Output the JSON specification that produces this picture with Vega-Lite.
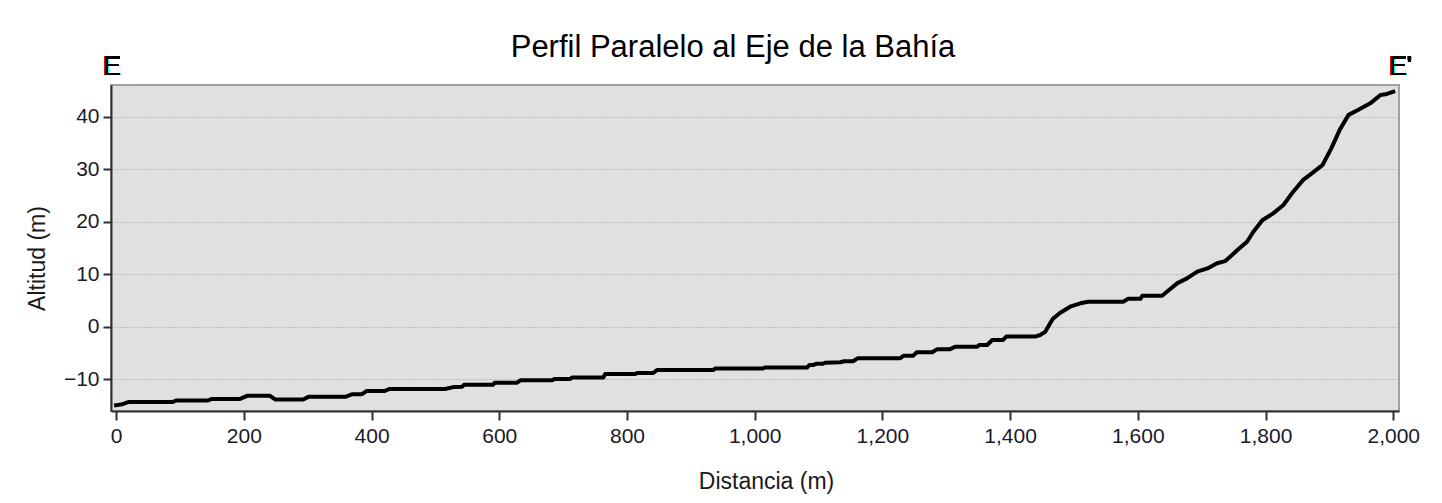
{
  "$schema": "https://vega.github.io/schema/vega-lite/v6.json",
  "autosize": "none",
  "width": 1288,
  "height": 326,
  "padding": {"left": 111, "top": 85, "right": 43, "bottom": 92},
  "background": "white",
  "title": {
    "text": "Perfil Paralelo al Eje de la Bahía",
    "font": "Liberation Sans",
    "fontSize": 31,
    "fontWeight": "normal",
    "color": "#000000",
    "anchor": "middle",
    "dx": -22,
    "offset": -11
  },
  "config": {
    "font": "Liberation Sans",
    "view": {"fill": "#e0e0e0", "stroke": "#a0a0a0", "strokeWidth": 2}
  },
  "data": {
    "values": [
      {"distancia": 0, "altitud": -15.0},
      {"distancia": 10, "altitud": -14.8},
      {"distancia": 19, "altitud": -14.4},
      {"distancia": 88, "altitud": -14.4},
      {"distancia": 94, "altitud": -14.1},
      {"distancia": 144, "altitud": -14.1},
      {"distancia": 150, "altitud": -13.8},
      {"distancia": 194, "altitud": -13.8},
      {"distancia": 205, "altitud": -13.2},
      {"distancia": 241, "altitud": -13.2},
      {"distancia": 249, "altitud": -13.9},
      {"distancia": 293, "altitud": -13.9},
      {"distancia": 301, "altitud": -13.4},
      {"distancia": 359, "altitud": -13.4},
      {"distancia": 370, "altitud": -12.9},
      {"distancia": 385, "altitud": -12.9},
      {"distancia": 392, "altitud": -12.3},
      {"distancia": 420, "altitud": -12.3},
      {"distancia": 428, "altitud": -11.9},
      {"distancia": 515, "altitud": -11.9},
      {"distancia": 530, "altitud": -11.5},
      {"distancia": 542, "altitud": -11.45},
      {"distancia": 545, "altitud": -11.1},
      {"distancia": 590, "altitud": -11.1},
      {"distancia": 593, "altitud": -10.7},
      {"distancia": 628, "altitud": -10.7},
      {"distancia": 633, "altitud": -10.25},
      {"distancia": 683, "altitud": -10.25},
      {"distancia": 686, "altitud": -10.0},
      {"distancia": 711, "altitud": -10.0},
      {"distancia": 714, "altitud": -9.7},
      {"distancia": 763, "altitud": -9.7},
      {"distancia": 766, "altitud": -9.05},
      {"distancia": 813, "altitud": -9.05},
      {"distancia": 816, "altitud": -8.85},
      {"distancia": 841, "altitud": -8.85},
      {"distancia": 847, "altitud": -8.3},
      {"distancia": 935, "altitud": -8.3},
      {"distancia": 938, "altitud": -8.0},
      {"distancia": 1013, "altitud": -8.0},
      {"distancia": 1016, "altitud": -7.8},
      {"distancia": 1082, "altitud": -7.8},
      {"distancia": 1086, "altitud": -7.3},
      {"distancia": 1092, "altitud": -7.3},
      {"distancia": 1096, "altitud": -7.1},
      {"distancia": 1107, "altitud": -7.1},
      {"distancia": 1110, "altitud": -6.9},
      {"distancia": 1134, "altitud": -6.8},
      {"distancia": 1140, "altitud": -6.6},
      {"distancia": 1154, "altitud": -6.6},
      {"distancia": 1161, "altitud": -6.05},
      {"distancia": 1228, "altitud": -6.05},
      {"distancia": 1233, "altitud": -5.55},
      {"distancia": 1248, "altitud": -5.55},
      {"distancia": 1254, "altitud": -4.9},
      {"distancia": 1278, "altitud": -4.9},
      {"distancia": 1286, "altitud": -4.3},
      {"distancia": 1306, "altitud": -4.3},
      {"distancia": 1314, "altitud": -3.85},
      {"distancia": 1348, "altitud": -3.85},
      {"distancia": 1352, "altitud": -3.5},
      {"distancia": 1364, "altitud": -3.5},
      {"distancia": 1372, "altitud": -2.55},
      {"distancia": 1389, "altitud": -2.55},
      {"distancia": 1394, "altitud": -1.9},
      {"distancia": 1439, "altitud": -1.9},
      {"distancia": 1447, "altitud": -1.6},
      {"distancia": 1455, "altitud": -1.0},
      {"distancia": 1462, "altitud": 0.5},
      {"distancia": 1467, "altitud": 1.5},
      {"distancia": 1478, "altitud": 2.6},
      {"distancia": 1494, "altitud": 3.8},
      {"distancia": 1510, "altitud": 4.45},
      {"distancia": 1522, "altitud": 4.75},
      {"distancia": 1577, "altitud": 4.75},
      {"distancia": 1585, "altitud": 5.3},
      {"distancia": 1604, "altitud": 5.3},
      {"distancia": 1607, "altitud": 5.9},
      {"distancia": 1638, "altitud": 5.9},
      {"distancia": 1646, "altitud": 6.7},
      {"distancia": 1662, "altitud": 8.3},
      {"distancia": 1677, "altitud": 9.2},
      {"distancia": 1693, "altitud": 10.5},
      {"distancia": 1709, "altitud": 11.1},
      {"distancia": 1724, "altitud": 12.1},
      {"distancia": 1737, "altitud": 12.5},
      {"distancia": 1756, "altitud": 14.6},
      {"distancia": 1771, "altitud": 16.2},
      {"distancia": 1781, "altitud": 18.1},
      {"distancia": 1795, "altitud": 20.3},
      {"distancia": 1812, "altitud": 21.6},
      {"distancia": 1828, "altitud": 23.2},
      {"distancia": 1843, "altitud": 25.7},
      {"distancia": 1859, "altitud": 28.0},
      {"distancia": 1873, "altitud": 29.3},
      {"distancia": 1889, "altitud": 30.8},
      {"distancia": 1903, "altitud": 34.0},
      {"distancia": 1916, "altitud": 37.5},
      {"distancia": 1930, "altitud": 40.4},
      {"distancia": 1944, "altitud": 41.3},
      {"distancia": 1964, "altitud": 42.6},
      {"distancia": 1980, "altitud": 44.2},
      {"distancia": 1990, "altitud": 44.4},
      {"distancia": 2000, "altitud": 44.8}
    ]
  },
  "layer": [
    {
      "mark": {"type": "line", "color": "#000000", "strokeWidth": 4, "strokeJoin": "round", "strokeCap": "square"},
      "encoding": {
        "x": {
          "field": "distancia",
          "type": "quantitative",
          "scale": {"domain": [-8, 2009], "nice": false, "zero": false},
          "axis": {
            "title": "Distancia (m)",
            "values": [0, 200, 400, 600, 800, 1000, 1200, 1400, 1600, 1800, 2000],
            "format": ",.0f",
            "grid": false,
            "domainColor": "#303030",
            "domainWidth": 2,
            "tickColor": "#303030",
            "tickWidth": 2,
            "tickSize": 9,
            "labelFontSize": 21,
            "labelColor": "#1a1a2a",
            "labelPadding": 5,
            "titleFontSize": 23,
            "titleFontWeight": "normal",
            "titleColor": "#1a1a1a",
            "titlePadding": 24,
            "titleX": 655
          }
        },
        "y": {
          "field": "altitud",
          "type": "quantitative",
          "scale": {"domain": [-16.1, 46.1], "nice": false, "zero": false},
          "axis": {
            "title": "Altitud (m)",
            "values": [-10, 0, 10, 20, 30, 40],
            "grid": true,
            "gridColor": "#a0a0a0",
            "gridDash": [1, 2],
            "gridWidth": 1,
            "domainColor": "#303030",
            "domainWidth": 2,
            "tickColor": "#303030",
            "tickWidth": 2,
            "tickSize": 8,
            "labelFontSize": 21,
            "labelColor": "#1a1a2a",
            "labelPadding": 4,
            "titleFontSize": 23,
            "titleFontWeight": "normal",
            "titleColor": "#1a1a1a",
            "titlePadding": 14,
            "titleY": 173
          }
        }
      }
    },
    {
      "mark": {"type": "text", "fontSize": 27, "color": "#000000", "baseline": "alphabetic", "align": "center", "clip": false},
      "encoding": {
        "x": {"datum": -7, "type": "quantitative"},
        "y": {"datum": 48.1, "type": "quantitative"},
        "text": {"value": "E"}
      }
    },
    {
      "mark": {"type": "text", "fontSize": 27, "color": "#000000", "baseline": "alphabetic", "align": "center", "clip": false},
      "encoding": {
        "x": {"datum": 2011, "type": "quantitative"},
        "y": {"datum": 48.1, "type": "quantitative"},
        "text": {"value": "E'"}
      }
    }
  ]
}
